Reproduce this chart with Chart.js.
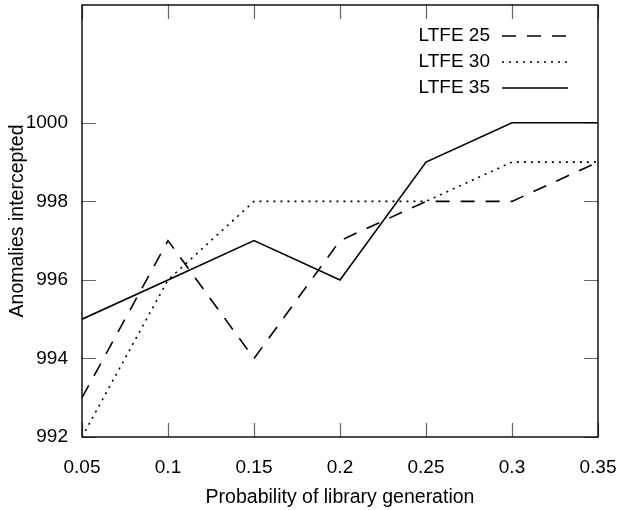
<!DOCTYPE html>
<html>
<head>
<meta charset="utf-8">
<script src="https://cdn.jsdelivr.net/npm/chart.js@4/dist/chart.umd.min.js"></script>
<style>
  html, body { margin: 0; padding: 0; background: #fff; }
  #wrap { width: 624px; height: 510px; }
</style>
</head>
<body>
<div id="wrap"><canvas id="chart" width="624" height="510"></canvas></div>
<script>
const probabilities = [0.05, 0.1, 0.15, 0.2, 0.25, 0.3, 0.35];
const ltfe25 = [993, 997, 994, 997, 998, 998, 999];
const ltfe30 = [992, 996, 998, 998, 998, 999, 999];
const ltfe35 = [995, 996, 997, 996, 999, 1000, 1000];
const seriesNames = ['LTFE 25', 'LTFE 30', 'LTFE 35'];
const yTicks = [992, 994, 996, 998, 1000];
const xTicks = [0.05, 0.1, 0.15, 0.2, 0.25, 0.3, 0.35];

const FONT = 'Liberation Sans, Arial, sans-serif';
const SIZE = 19;

function pts(values) {
  return probabilities.map((p, i) => ({ x: p, y: values[i] }));
}

// box around the plot with ticks pointing inwards on all four sides
const frame = {
  id: 'frame',
  afterDraw(chart) {
    const { ctx, chartArea: a } = chart;
    const sx = chart.scales.x, sy = chart.scales.y;
    const len = 14;
    ctx.save();
    ctx.setLineDash([]);
    ctx.strokeStyle = '#666';
    ctx.lineWidth = 1.2;
    ctx.beginPath();
    for (const v of xTicks) {
      const x = Math.round(sx.getPixelForValue(v)) + 0.5;
      ctx.moveTo(x, a.bottom); ctx.lineTo(x, a.bottom - len);
      ctx.moveTo(x, a.top); ctx.lineTo(x, a.top + len);
    }
    for (const v of yTicks) {
      const y = Math.round(sy.getPixelForValue(v)) + 0.5;
      ctx.moveTo(a.left, y); ctx.lineTo(a.left + len, y);
      ctx.moveTo(a.right, y); ctx.lineTo(a.right - len, y);
    }
    ctx.stroke();
    ctx.strokeStyle = '#000';
    ctx.lineWidth = 1.4;
    ctx.strokeRect(a.left, a.top, a.right - a.left, a.bottom - a.top);

    // legend: label then line sample, top right
    ctx.font = SIZE + 'px ' + FONT;
    ctx.textAlign = 'right';
    ctx.textBaseline = 'middle';
    chart.data.datasets.forEach((ds, i) => {
      const y = a.top + 31 + i * 26;
      ctx.fillStyle = '#000';
      ctx.fillText(ds.label, a.right - 108, y);
      ctx.strokeStyle = '#000';
      ctx.lineWidth = 1.6;
      ctx.setLineDash(ds.borderDash || []);
      ctx.beginPath();
      ctx.moveTo(a.right - 96, y);
      ctx.lineTo(a.right - 30, y);
      ctx.stroke();
    });
    ctx.setLineDash([]);
    ctx.restore();
  }
};

const styles = [[14, 11], [2, 5], []];
const values = [ltfe25, ltfe30, ltfe35];

new Chart(document.getElementById('chart'), {
  type: 'line',
  data: {
    datasets: values.map((v, i) => ({
      label: seriesNames[i],
      data: pts(v),
      borderColor: '#000',
      borderWidth: 1.6,
      borderDash: styles[i],
      pointRadius: 0,
      tension: 0,
      fill: false
    }))
  },
  options: {
    responsive: false,
    animation: false,
    layout: { padding: { top: 5, right: 26, left: 6, bottom: 0 } },
    plugins: { legend: { display: false }, tooltip: { enabled: false } },
    scales: {
      x: {
        type: 'linear',
        min: 0.05, max: 0.35,
        afterBuildTicks: s => { s.ticks = xTicks.map(v => ({ value: v })); },
        afterFit: s => { s.height = 73; s.paddingLeft = 0; s.paddingRight = 0; },
        grid: { display: false, drawTicks: false },
        border: { display: false },
        ticks: { color: '#000', font: { family: FONT, size: SIZE }, padding: 19, maxRotation: 0,
          callback: v => String(v) },
        title: { display: true, text: 'Probability of library generation', color: '#000',
          font: { family: FONT, size: 19.5 }, padding: { top: 5, bottom: 1 } }
      },
      y: {
        min: 992, max: 1003,
        afterBuildTicks: s => { s.ticks = yTicks.map(v => ({ value: v })); },
        afterFit: s => { s.width = 76; s.paddingTop = 0; s.paddingBottom = 0; },
        grid: { display: false, drawTicks: false },
        border: { display: false },
        ticks: { color: '#000', font: { family: FONT, size: SIZE }, padding: 14,
          callback: v => String(v) },
        title: { display: true, text: 'Anomalies intercepted', color: '#000',
          font: { family: FONT, size: 19.5 }, padding: { top: 0, bottom: 0 } }
      }
    }
  },
  plugins: [frame]
});
</script>
</body>
</html>
